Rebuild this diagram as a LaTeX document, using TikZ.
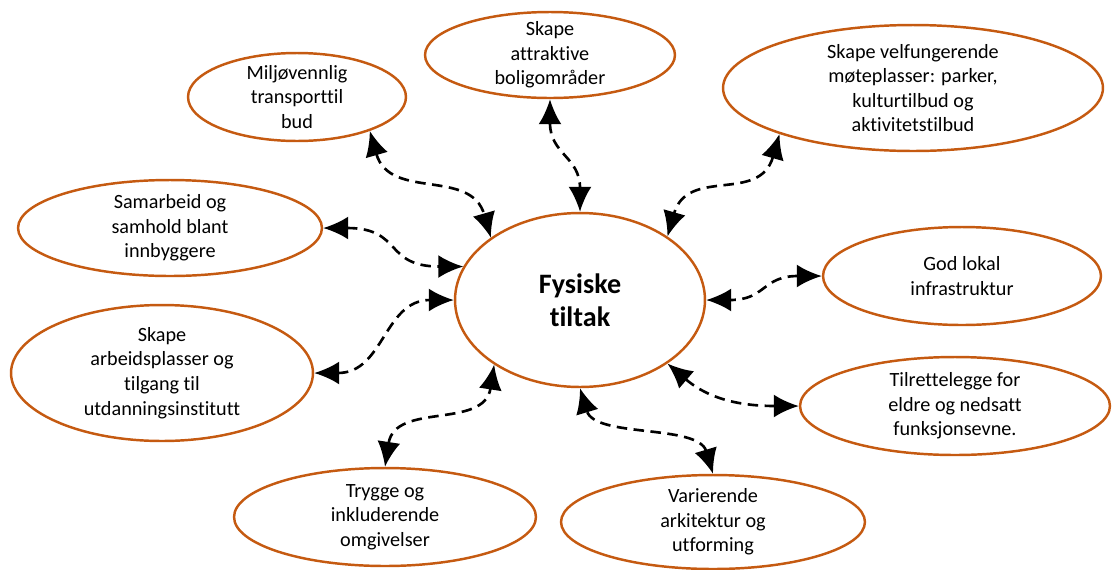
\documentclass[tikz,border=0pt]{standalone}
\usepackage{fontspec}
\setmainfont{Carlito}[Ligatures={NoCommon}]
\usetikzlibrary{shapes.geometric,arrows.meta}
\definecolor{rim}{HTML}{C55A11}
\tikzset{
  bubble/.style={ellipse, draw=rim, line width=1.4pt, inner sep=-10pt, align=center,
    font=\fontsize{11.5}{14}\selectfont},
  link/.style={{Latex[length=5mm,width=4.6mm]}-{Latex[length=5mm,width=4.6mm]},
    line width=1.5pt, dash pattern=on 2.1mm off 1.3mm}
}
\begin{document}
\begin{tikzpicture}[x=0.02cm, y=-0.02cm]
    \useasboundingbox (0,0) rectangle (1113,569);

    % centre
    \node[bubble, minimum width=5cm, minimum height=3.48cm,
      font=\fontsize{16}{19}\selectfont\bfseries] (fys) at (580,300) {Fysiske\\tiltak};

    % goals round it
    \node[bubble, minimum width=5cm, minimum height=1.72cm] (bolig) at (550,55) {Skape\\attraktive\\boligområder};
    \node[bubble, minimum width=4.36cm, minimum height=1.76cm] (miljo) at (297,97) {Miljøvennlig\\transporttil\\bud};
    \node[bubble, minimum width=7.6cm, minimum height=2.52cm] (moete) at (913,88) {Skape velfungerende\\møteplasser: parker,\\kulturtilbud og\\aktivitetstilbud};
    \node[bubble, minimum width=6.08cm, minimum height=1.92cm] (samarb) at (170,228) {Samarbeid og\\samhold blant\\innbyggere};
    \node[bubble, minimum width=5.56cm, minimum height=1.96cm] (infra) at (962,276) {God lokal\\infrastruktur};
    \node[bubble, minimum width=6.04cm, minimum height=2.72cm] (arbeid) at (162,373) {Skape\\arbeidsplasser og\\tilgang til\\utdanningsinstitutt};
    \node[bubble, minimum width=6.2cm, minimum height=1.96cm] (eldre) at (955,406) {Tilrettelegge for\\eldre og nedsatt\\funksjonsevne.};
    \node[bubble, minimum width=6.04cm, minimum height=1.96cm] (trygg) at (385,517) {Trygge og\\inkluderende\\omgivelser};
    \node[bubble, minimum width=6.08cm, minimum height=1.88cm] (arkit) at (713,522) {Varierende\\arkitektur og\\utforming};

    % links
    \draw[link] (miljo.-25) .. controls +(20,70) and +(-20,-70) .. (fys.145);
    \draw[link] (samarb.0) .. controls +(80,0) and +(-80,0) .. (fys.164);
    \draw[link] (bolig.-90) .. controls +(0,55) and +(0,-55) .. (fys.90);
    \draw[link] (moete.-161) .. controls +(-20,70) and +(20,-70) .. (fys.36);
    \draw[link] (infra.180) .. controls +(-60,0) and +(60,0) .. (fys.0);
    \draw[link] (eldre.180) .. controls +(-70,0) and +(35,30) .. (fys.-36);
    \draw[link] (arkit.90) .. controls +(-15,-50) and +(15,50) .. (fys.-90);
    \draw[link] (trygg.90) .. controls +(10,-65) and +(-10,65) .. (fys.-143);
    \draw[link] (arbeid.0) .. controls +(70,0) and +(-70,0) .. (fys.180);
\end{tikzpicture}
\end{document}
